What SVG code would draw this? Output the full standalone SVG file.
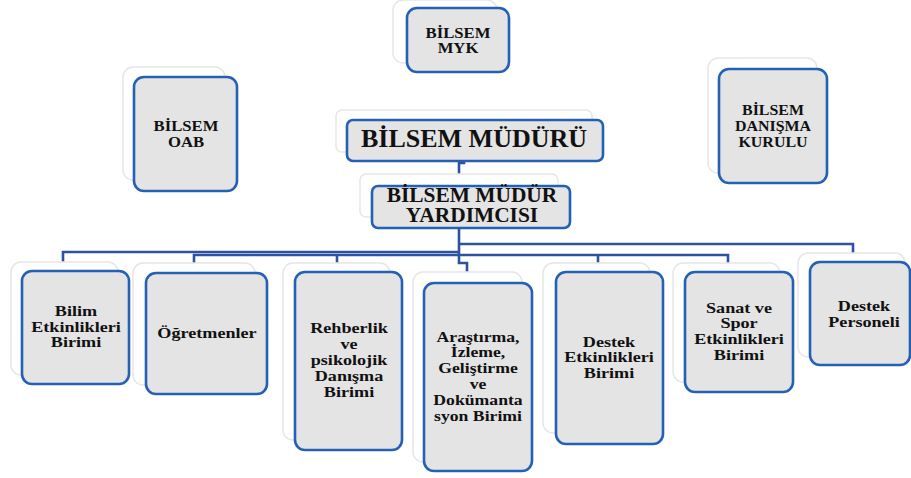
<svg xmlns="http://www.w3.org/2000/svg" width="911" height="478" viewBox="0 0 911 478">
<style>
.g{fill:#ffffff;stroke:#e6e6e6;stroke-width:1.5}
.f{fill:#e4e4e4;stroke:#2461b5;stroke-width:2.6}
text{font-family:'Liberation Serif','DejaVu Serif',serif;font-weight:bold;fill:#111;text-anchor:middle}
.s{font-size:14.5px}
.c{fill:none;stroke:#2d52a3;stroke-width:2.6}
</style>
<rect width="911" height="478" fill="#fff"/>
<g id="connectors">
<path class="c" d="M464,152 V163 H459 V174"/>
<path class="c" d="M459,228 V263 H467 V272"/>
<path class="c" d="M459,244 H853 V253"/>
<path class="c" d="M459,252 H63 V262"/>
<path class="c" d="M194,263 V255 H728 V263"/>
<path class="c" d="M337,255 V263"/>
<path class="c" d="M598,255 V263"/>
</g>
<g id="myk">
<rect class="g" x="393" y="0" width="104" height="63" rx="10"/>
<rect class="f" x="407" y="8" width="102" height="64" rx="10"/>
<text class="s" font-family="Liberation Serif, serif" transform="translate(458,0) scale(1.15,1)"><tspan x="0" y="38">BİLSEM</tspan><tspan x="0" y="53">MYK</tspan></text>
</g>
<g id="oab">
<rect class="g" x="123" y="67" width="102" height="113" rx="10"/>
<rect class="f" x="134" y="77" width="103" height="114" rx="10"/>
<text class="s" font-family="Liberation Serif, serif" transform="translate(186,0) scale(1.15,1)"><tspan x="0" y="131">BİLSEM</tspan><tspan x="0" y="147">OAB</tspan></text>
</g>
<g id="mudur">
<rect class="g" x="336" y="110" width="256" height="42" rx="6"/>
<rect class="f" x="347" y="120" width="256" height="41" rx="6"/>
<text font-family="Liberation Serif, serif" style="font-size:25px" transform="translate(474,0) scale(1.04,1)"><tspan x="0" y="147">BİLSEM MÜDÜRÜ</tspan></text>
</g>
<g id="mudur-yardimcisi">
<rect class="g" x="360" y="174" width="198" height="43" rx="6"/>
<rect class="f" x="372" y="186" width="198" height="42" rx="6"/>
<text font-family="Liberation Serif, serif" style="font-size:20px" transform="translate(472,0) scale(1.07,1)"><tspan x="0" y="202">BİLSEM MÜDÜR</tspan><tspan x="0" y="222">YARDIMCISI</tspan></text>
</g>
<g id="danisma-kurulu">
<rect class="g" x="708" y="58" width="109" height="115" rx="10"/>
<rect class="f" x="719" y="69" width="108" height="114" rx="10"/>
<text class="s" font-family="Liberation Serif, serif" transform="translate(773,0) scale(1.1,1)"><tspan x="0" y="115">BİLSEM</tspan><tspan x="0" y="131">DANIŞMA</tspan><tspan x="0" y="147">KURULU</tspan></text>
</g>
<g id="bilim">
<rect class="g" x="11" y="262" width="107" height="113" rx="10"/>
<rect class="f" x="22" y="271" width="107" height="113" rx="10"/>
<text class="s" font-family="Liberation Serif, serif" transform="translate(76,0) scale(1.25,1)"><tspan x="0" y="316">Bilim</tspan><tspan x="0" y="332">Etkinlikleri</tspan><tspan x="0" y="347">Birimi</tspan></text>
</g>
<g id="ogretmenler">
<rect class="g" x="133" y="263" width="122" height="122" rx="10"/>
<rect class="f" x="146" y="273" width="121" height="121" rx="10"/>
<text class="s" font-family="Liberation Serif, serif" transform="translate(207,0) scale(1.25,1)"><tspan x="0" y="338">Öğretmenler</tspan></text>
</g>
<g id="rehberlik">
<rect class="g" x="283" y="263" width="107" height="177" rx="10"/>
<rect class="f" x="295" y="272" width="107" height="178" rx="10"/>
<text class="s" font-family="Liberation Serif, serif" transform="translate(349,0) scale(1.25,1)"><tspan x="0" y="333">Rehberlik</tspan><tspan x="0" y="349">ve</tspan><tspan x="0" y="365">psikolojik</tspan><tspan x="0" y="381">Danışma</tspan><tspan x="0" y="397">Birimi</tspan></text>
</g>
<g id="arastirma">
<rect class="g" x="413" y="272" width="109" height="190" rx="10"/>
<rect class="f" x="424" y="283" width="108" height="188" rx="10"/>
<text class="s" font-family="Liberation Serif, serif" transform="translate(478,0) scale(1.22,1)"><tspan x="0" y="342">Araştırma,</tspan><tspan x="0" y="357">İzleme,</tspan><tspan x="0" y="373">Geliştirme</tspan><tspan x="0" y="389">ve</tspan><tspan x="0" y="405">Dokümanta</tspan><tspan x="0" y="421">syon Birimi</tspan></text>
</g>
<g id="destek-etkinlikleri">
<rect class="g" x="543" y="263" width="107" height="170" rx="10"/>
<rect class="f" x="556" y="272" width="107" height="172" rx="10"/>
<text class="s" font-family="Liberation Serif, serif" transform="translate(609,0) scale(1.25,1)"><tspan x="0" y="347">Destek</tspan><tspan x="0" y="362">Etkinlikleri</tspan><tspan x="0" y="378">Birimi</tspan></text>
</g>
<g id="sanat-spor">
<rect class="g" x="673" y="263" width="107" height="119" rx="10"/>
<rect class="f" x="685" y="272" width="108" height="120" rx="10"/>
<text class="s" font-family="Liberation Serif, serif" transform="translate(739,0) scale(1.25,1)"><tspan x="0" y="313">Sanat ve</tspan><tspan x="0" y="328">Spor</tspan><tspan x="0" y="344">Etkinlikleri</tspan><tspan x="0" y="360">Birimi</tspan></text>
</g>
<g id="destek-personeli">
<rect class="g" x="798" y="253" width="107" height="104" rx="10"/>
<rect class="f" x="810" y="262" width="100" height="103" rx="10"/>
<text class="s" font-family="Liberation Serif, serif" transform="translate(864,0) scale(1.25,1)"><tspan x="0" y="311">Destek</tspan><tspan x="0" y="327">Personeli</tspan></text>
</g>
</svg>
